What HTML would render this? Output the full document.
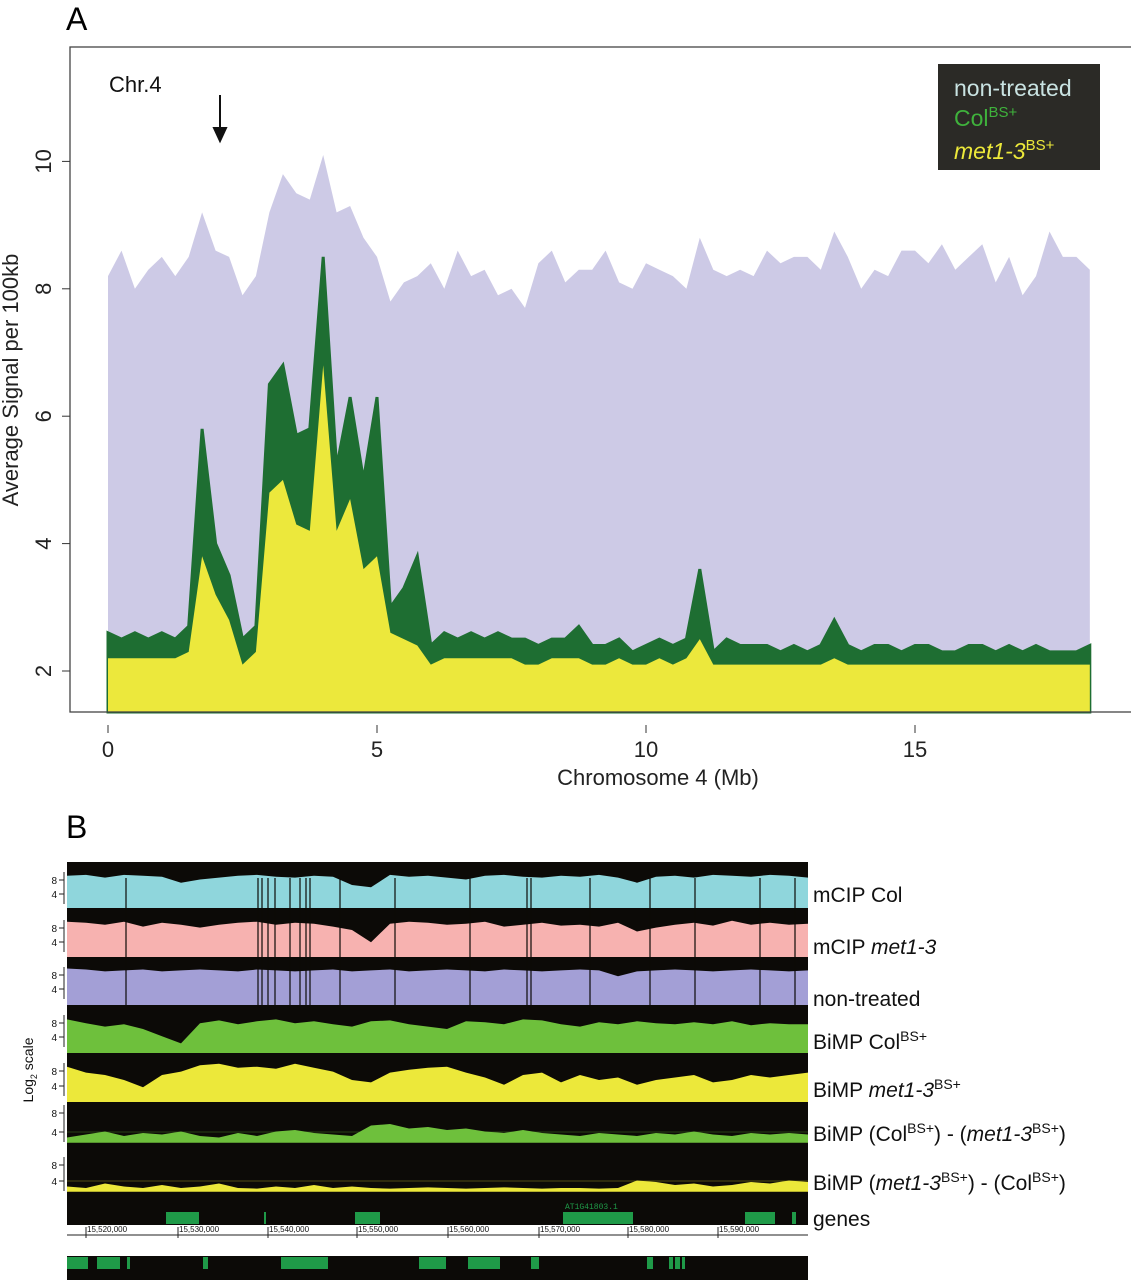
<!DOCTYPE html>
<html><head><meta charset="utf-8">
<style>
body{margin:0;background:#fff;}
svg{display:block;font-family:"Liberation Sans",sans-serif;}
</style></head>
<body>
<svg id="fig" width="1131" height="1280" viewBox="0 0 1131 1280">
<g id="panelA"></g>
<g id="panelB"></g>
</svg>
<script>
// ---------- Panel A data ----------
const posMb = [0,0.25,0.5,0.75,1,1.25,1.5,1.75,2,2.25,2.5,2.75,3,3.25,3.5,3.75,4,4.25,4.5,4.75,5,5.25,5.5,5.75,6,6.25,6.5,6.75,7,7.25,7.5,7.75,8,8.25,8.5,8.75,9,9.25,9.5,9.75,10,10.25,10.5,10.75,11,11.25,11.5,11.75,12,12.25,12.5,12.75,13,13.25,13.5,13.75,14,14.25,14.5,14.75,15,15.25,15.5,15.75,16,16.25,16.5,16.75,17,17.25,17.5,17.75,18,18.25];
const nonTreated = [8.2,8.6,8.0,8.3,8.5,8.2,8.5,9.2,8.6,8.5,7.9,8.2,9.2,9.8,9.5,9.4,10.1,9.2,9.3,8.8,8.5,7.8,8.1,8.2,8.4,8.0,8.6,8.2,8.3,7.9,8.0,7.7,8.4,8.6,8.1,8.3,8.3,8.6,8.1,8.0,8.4,8.3,8.2,8.0,8.8,8.3,8.2,8.3,8.2,8.6,8.4,8.5,8.5,8.3,8.9,8.5,8.0,8.3,8.2,8.6,8.6,8.4,8.7,8.3,8.5,8.7,8.1,8.5,7.9,8.2,8.9,8.5,8.5,8.3];
const colBS = [2.6,2.5,2.6,2.5,2.6,2.5,2.7,5.8,4.0,3.5,2.5,2.7,6.5,6.8,5.7,5.8,8.5,5.2,6.3,5.0,6.3,3.0,3.3,3.8,2.4,2.6,2.5,2.6,2.5,2.6,2.5,2.5,2.4,2.5,2.5,2.7,2.4,2.4,2.5,2.3,2.4,2.5,2.4,2.5,3.6,2.3,2.5,2.4,2.4,2.4,2.3,2.4,2.3,2.4,2.8,2.4,2.3,2.4,2.4,2.3,2.4,2.4,2.3,2.3,2.4,2.4,2.3,2.4,2.3,2.4,2.3,2.3,2.3,2.4];
const metBS = [2.2,2.2,2.2,2.2,2.2,2.2,2.3,3.8,3.2,2.8,2.1,2.3,4.8,5.0,4.3,4.2,6.8,4.2,4.7,3.6,3.8,2.6,2.5,2.4,2.1,2.2,2.2,2.2,2.2,2.2,2.2,2.1,2.1,2.2,2.2,2.2,2.1,2.1,2.2,2.1,2.1,2.2,2.1,2.2,2.5,2.1,2.1,2.1,2.1,2.1,2.1,2.1,2.1,2.1,2.2,2.1,2.1,2.1,2.1,2.1,2.1,2.1,2.1,2.1,2.1,2.1,2.1,2.1,2.1,2.1,2.1,2.1,2.1,2.1];
const xTicks = [0,5,10,15];
const yTicks = [2,4,6,8,10];

// ---------- Panel B data ----------
const trackNames = ["mCIP Col","mCIP met1-3","non-treated","BiMP Col","BiMP met1-3"];
const trackColors = ["#8fd6dc","#f7b2b0","#a39fd6","#6ec03c","#ece83a"];
const trackCyan = [0.70,0.72,0.66,0.72,0.70,0.68,0.55,0.62,0.66,0.70,0.72,0.68,0.66,0.70,0.68,0.50,0.45,0.72,0.68,0.70,0.66,0.62,0.70,0.72,0.68,0.66,0.70,0.68,0.72,0.66,0.55,0.68,0.70,0.66,0.72,0.70,0.68,0.72,0.70,0.66];
const trackPink = [0.72,0.70,0.66,0.72,0.62,0.70,0.66,0.60,0.66,0.70,0.72,0.66,0.70,0.68,0.62,0.55,0.30,0.68,0.72,0.70,0.66,0.68,0.72,0.62,0.66,0.70,0.64,0.66,0.62,0.70,0.52,0.60,0.66,0.70,0.64,0.74,0.66,0.70,0.66,0.68];
const trackPurple = [0.76,0.74,0.70,0.72,0.74,0.70,0.72,0.74,0.72,0.70,0.74,0.72,0.70,0.72,0.74,0.70,0.72,0.74,0.70,0.72,0.74,0.72,0.70,0.74,0.72,0.70,0.72,0.74,0.72,0.60,0.70,0.72,0.74,0.72,0.70,0.72,0.74,0.72,0.70,0.72];
const trackGreen = [0.70,0.62,0.55,0.60,0.50,0.35,0.20,0.62,0.68,0.60,0.66,0.70,0.62,0.66,0.60,0.55,0.66,0.68,0.60,0.55,0.50,0.66,0.64,0.60,0.70,0.68,0.60,0.55,0.64,0.60,0.66,0.62,0.60,0.64,0.60,0.66,0.58,0.62,0.60,0.60];
const trackYellow = [0.72,0.60,0.55,0.45,0.30,0.55,0.62,0.75,0.78,0.70,0.72,0.68,0.78,0.70,0.62,0.45,0.40,0.60,0.66,0.70,0.72,0.60,0.50,0.35,0.55,0.60,0.40,0.55,0.45,0.50,0.35,0.45,0.50,0.55,0.40,0.45,0.55,0.50,0.55,0.60];
const trackValues = [trackCyan,trackPink,trackPurple,trackGreen,trackYellow];
const diffColMet = [0.15,0.25,0.35,0.20,0.30,0.25,0.35,0.20,0.15,0.30,0.20,0.35,0.40,0.30,0.25,0.20,0.55,0.60,0.45,0.50,0.40,0.45,0.35,0.30,0.40,0.30,0.25,0.20,0.30,0.25,0.20,0.30,0.25,0.35,0.25,0.20,0.30,0.25,0.30,0.25];
const diffMetCol = [0.15,0.10,0.25,0.15,0.10,0.20,0.10,0.15,0.25,0.10,0.08,0.15,0.10,0.20,0.10,0.15,0.10,0.08,0.10,0.12,0.10,0.08,0.10,0.12,0.10,0.08,0.10,0.10,0.08,0.10,0.35,0.30,0.20,0.25,0.15,0.20,0.30,0.25,0.35,0.30];
const geneBoxesTop = [[166,199],[264,266],[355,380],[563,633],[745,775],[792,796]];
const geneBoxesBottom = [[67,88],[97,120],[127,130],[203,208],[281,328],[419,446],[468,500],[531,539],[647,653],[669,673],[675,680],[682,685]];
const rulerLabels = ["15,520,000","15,530,000","15,540,000","15,550,000","15,560,000","15,570,000","15,580,000","15,590,000"];
const rulerPos = [86,178,268,357,448,539,628,718];

const NS="http://www.w3.org/2000/svg";
function mk(tag, attrs, parent, txt){const e=document.createElementNS(NS,tag);for(const k in attrs)e.setAttribute(k,attrs[k]);if(txt!==undefined)e.textContent=txt;parent.appendChild(e);return e;}

// ---------- Panel A ----------
const A=document.getElementById('panelA');
const X0=108, XS=53.8, Y2=671, YS=63.7;
const xs=v=>X0+v*XS, ys=v=>Y2-(v-2)*YS;
const plotBottom=712;
function area(vals,color,name){
  let d=`M${xs(posMb[0])},${plotBottom}`;
  posMb.forEach((p,i)=>{d+=` L${xs(p).toFixed(1)},${ys(vals[i]).toFixed(1)}`;});
  d+=` L${xs(posMb[posMb.length-1])},${plotBottom} Z`;
  const e=mk('path',{d:d,fill:color},A);
  
  
  return e;
}
area(nonTreated,'#cdcae6','non-treated-area');
const g=area(colBS,'#1e6e32','col-bs-area');
g.setAttribute('stroke','#1e6e32');g.setAttribute('stroke-width','3');
area(metBS,'#ece83c','met1-3-bs-area');

let t;
t=mk('text',{x:66,y:30,'font-size':32},A,'A');
t=mk('rect',{x:70,y:47,width:1070,height:665,fill:'none',stroke:'#444','stroke-width':1.3},A);
xTicks.forEach(v=>{
  const tk=mk('line',{x1:xs(v),x2:xs(v),y1:725,y2:733,stroke:'#333'},A);
  
  const l=mk('text',{x:xs(v),y:757,'font-size':22,'text-anchor':'middle',fill:'#222'},A,String(v));
  
});
yTicks.forEach(v=>{
  const tk=mk('line',{x1:62,x2:70,y1:ys(v),y2:ys(v),stroke:'#333'},A);
  
  const l=mk('text',{x:0,y:0,'font-size':22,'text-anchor':'middle',fill:'#222',transform:`translate(51,${ys(v)}) rotate(-90)`},A,String(v));
  
});
t=mk('text',{x:0,y:0,'font-size':22,'text-anchor':'middle',fill:'#222',transform:'translate(18,380) rotate(-90)'},A,'Average Signal per 100kb');
t=mk('text',{x:658,y:785,'font-size':22,'text-anchor':'middle',fill:'#222'},A,'Chromosome 4 (Mb)');
t=mk('text',{x:109,y:92,'font-size':22,fill:'#111'},A,'Chr.4');
t=mk('path',{d:'M220,95 L220,128 M214,128 L226,128 L220,141 Z',stroke:'#111','stroke-width':2,fill:'#111'},A);
t=mk('rect',{x:938,y:64,width:162,height:106,fill:'#2b2a26'},A);
t=mk('text',{x:954,y:96,'font-size':23,fill:'#c9e3e2'},A,'non-treated');
t=mk('text',{x:954,y:126,'font-size':23,fill:'#3fb23c'},A);t.innerHTML='Col<tspan font-size="15" dy="-9">BS+</tspan>';
t=mk('text',{x:954,y:159,'font-size':23,fill:'#ece83a'},A);t.innerHTML='<tspan font-style="italic">met1-3</tspan><tspan font-size="15" dy="-9">BS+</tspan>';

// ---------- Panel B ----------
const B=document.getElementById('panelB');
const BX0=67, BX1=808;
t=mk('text',{x:66,y:838,'font-size':32},B,'B');
t=mk('rect',{x:BX0,y:862,width:BX1-BX0,height:363,fill:'#0c0a07'},B);
const trackTops=[862,908,957,1005,1053];
const trackBottoms=[908,957,1005,1053,1102];
function trackArea(vals,top,bot,color,name){
  const n=vals.length, w=(BX1-BX0)/(n-1), h=bot-top;
  let d=`M${BX0},${bot}`;
  vals.forEach((v,i)=>{d+=` L${(BX0+i*w).toFixed(1)},${(bot-v*h).toFixed(1)}`;});
  d+=` L${BX1},${bot} Z`;
  const e=mk('path',{d:d,fill:color},B);
  
  
}
const trackLabelsHTML=['mCIP Col','mCIP <tspan font-style="italic">met1-3</tspan>','non-treated','BiMP Col<tspan font-size="14" dy="-8">BS+</tspan>','BiMP <tspan font-style="italic">met1-3</tspan><tspan font-size="14" dy="-8">BS+</tspan>'];
const labelY=[902,954,1006,1049,1097];
trackValues.forEach((vals,i)=>{
  trackArea(vals,trackTops[i],trackBottoms[i],trackColors[i],'track-'+trackNames[i].toLowerCase().replace(/[^a-z0-9]+/g,'-'));
  const l=mk('text',{x:813,y:labelY[i],'font-size':21,fill:'#111'},B);
  l.innerHTML=trackLabelsHTML[i];
  
  
});
// black vertical gaps
[126,258,262,268,275,290,300,306,310,340,395,470,527,531,590,650,695,760,795].forEach(x=>{
  const l=mk('line',{x1:x,x2:x,y1:878,y2:1005,stroke:'#0c0a07','stroke-width':1.2},B);
  
});
// difference tracks
function diffTrack(vals,base,h,color,name){
  const n=vals.length,w=(BX1-BX0)/(n-1);
  let d=`M${BX0},${base}`;
  vals.forEach((v,i)=>{d+=` L${(BX0+i*w).toFixed(1)},${(base-v*h).toFixed(1)}`;});
  d+=` L${BX1},${base} Z`;
  const e=mk('path',{d:d,fill:color},B);
  
  const ln=mk('line',{x1:BX0,x2:BX1,y1:base,y2:base,stroke:color,'stroke-width':1.5},B);
  
  const th=mk('line',{x1:BX0,x2:BX1,y1:base-10,y2:base-10,stroke:color,'stroke-width':0.6,opacity:0.6},B);
  
}
diffTrack(diffColMet,1142,30,'#6ec03c','diff-col-minus-met');
diffTrack(diffMetCol,1191,30,'#ece83a','diff-met-minus-col');
t=mk('text',{x:813,y:1141,'font-size':21,fill:'#111'},B);t.innerHTML='BiMP (Col<tspan font-size="14" dy="-8">BS+</tspan><tspan dy="8">) - (</tspan><tspan font-style="italic">met1-3</tspan><tspan font-size="14" dy="-8">BS+</tspan><tspan dy="8">)</tspan>';
t=mk('text',{x:813,y:1190,'font-size':21,fill:'#111'},B);t.innerHTML='BiMP (<tspan font-style="italic">met1-3</tspan><tspan font-size="14" dy="-8">BS+</tspan><tspan dy="8">) - (Col</tspan><tspan font-size="14" dy="-8">BS+</tspan><tspan dy="8">)</tspan>';
t=mk('text',{x:813,y:1226,'font-size':21,fill:'#111'},B,'genes');
geneBoxesTop.forEach(b=>{const r=mk('rect',{x:b[0],y:1212,width:b[1]-b[0],height:12,fill:'#1f9a48'},B);});
t=mk('text',{x:565,y:1209,'font-size':8,fill:'#1f9a48','font-family':'Liberation Mono'},B,'AT1G41803.1');
// ruler
t=mk('rect',{x:BX0,y:1225,width:BX1-BX0,height:14,fill:'#fff'},B);
t=mk('line',{x1:BX0,x2:BX1,y1:1235,y2:1235,stroke:'#222','stroke-width':1},B);
rulerLabels.forEach((s,i)=>{
  const tk=mk('line',{x1:rulerPos[i],x2:rulerPos[i],y1:1227,y2:1238,stroke:'#222'},B);
  
  const l=mk('text',{x:rulerPos[i]+1,y:1232,'font-size':8,fill:'#111'},B,s);
  
});
t=mk('rect',{x:BX0,y:1256,width:BX1-BX0,height:24,fill:'#0c0a07'},B);
geneBoxesBottom.forEach(b=>{const r=mk('rect',{x:b[0],y:1257,width:b[1]-b[0],height:12,fill:'#1f9a48'},B);});
// y ticks panel B
const tickRows=[[880,894],[928,942],[975,989],[1023,1037],[1071,1086],[1113,1132],[1165,1181]];
tickRows.forEach(r=>{
  const top=r[0]-8, bot=r[1]+10;
  const ax=mk('line',{x1:64,x2:64,y1:top,y2:bot,stroke:'#222'},B);
  [[r[0],'8'],[r[1],'4']].forEach(p=>{
    const tk=mk('line',{x1:59,x2:64,y1:p[0],y2:p[0],stroke:'#222'},B);
    const l=mk('text',{x:57,y:p[0]+4,'font-size':10,'text-anchor':'end',fill:'#111'},B,p[1]);
  });
});
t=mk('text',{x:0,y:0,'font-size':14,'text-anchor':'middle',fill:'#111',transform:'translate(33,1070) rotate(-90)'},B);t.innerHTML='Log<tspan font-size="9" dy="4">2</tspan><tspan dy="-4"> scale</tspan>';
</script>
</body></html>
